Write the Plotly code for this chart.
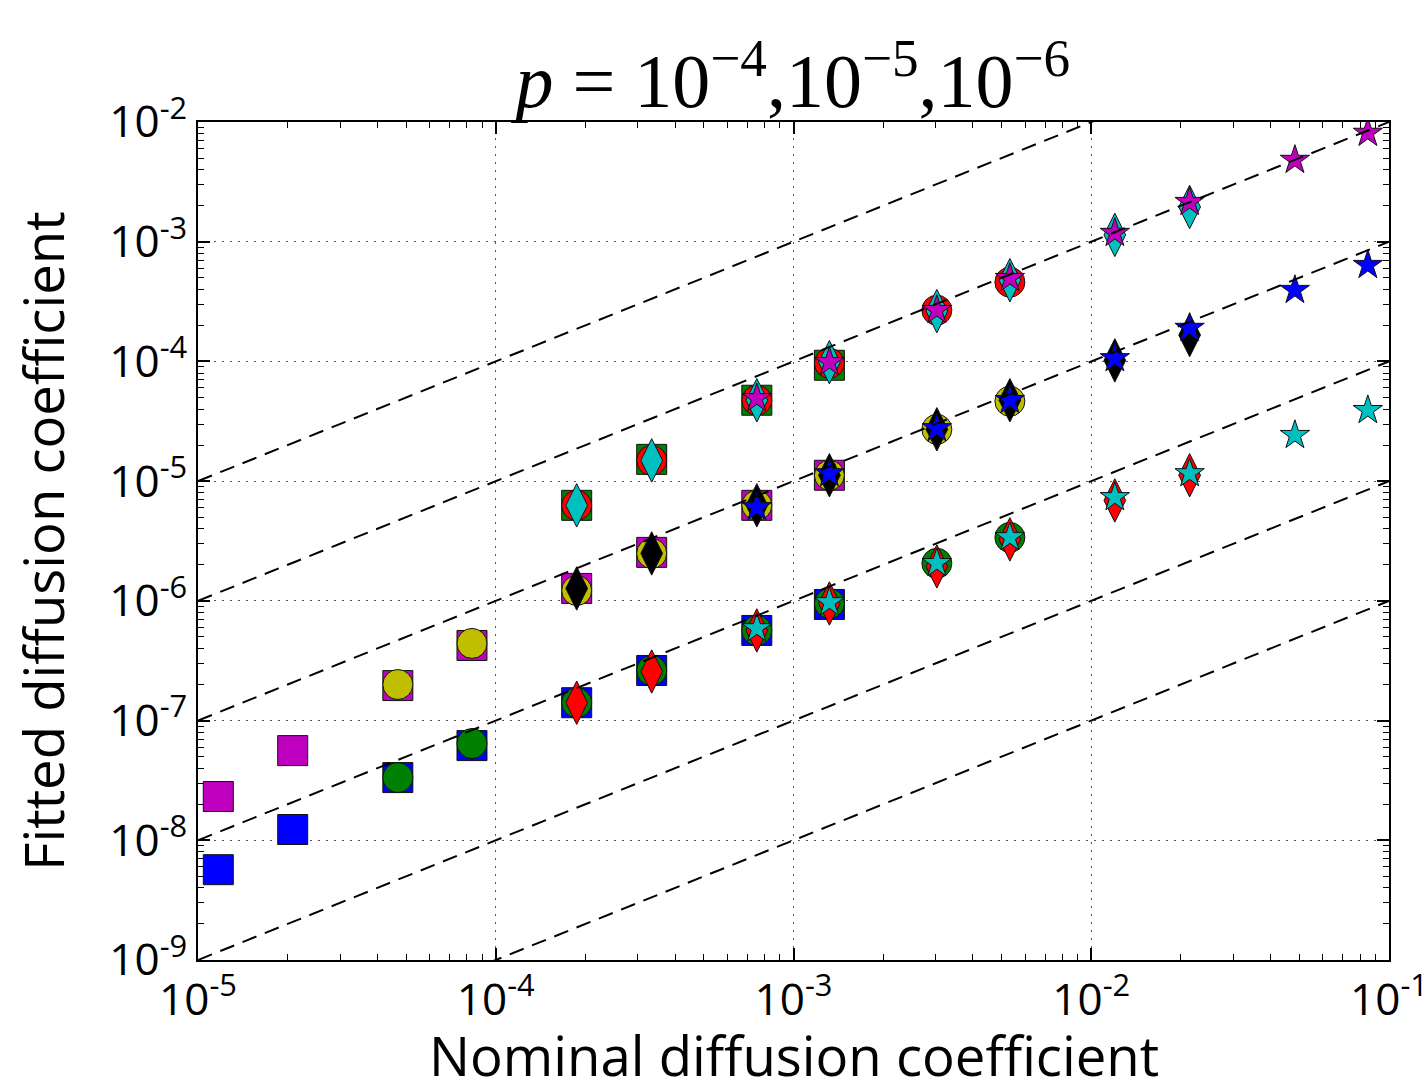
import plotly.graph_objects as go

# Nominal diffusion coefficients (shared x grid)
nominal = [1.17e-5, 2.08e-5, 4.69e-5, 8.32e-5, 1.87e-4, 3.34e-4, 7.53e-4,
           1.32e-3, 3.03e-3, 5.33e-3, 1.20e-2, 2.14e-2, 4.83e-2, 8.49e-2]

# index ranges of the nominal grid covered by each marker family
sq_idx = list(range(0, 8))
ci_idx = list(range(2, 10))
di_idx = list(range(4, 12))
st_idx = list(range(6, 14))

# fitted coefficients, upper family
a_sq = [6.28e-6, 1.52e-5, 4.74e-5, 9.29e-5]                     # idx 4..7
a_ci = [6.28e-6, 1.49e-5, 4.74e-5, 9.66e-5, 2.68e-4, 4.59e-4]   # idx 4..9
a_di = [6.28e-6, 1.49e-5, 4.74e-5, 9.85e-5, 2.63e-4, 4.77e-4, 1.14e-3, 1.95e-3]
a_st = [4.92e-5, 9.85e-5, 2.68e-4, 4.96e-4, 1.18e-3, 2.14e-3, 4.81e-3, 8.09e-3]

# fitted coefficients, middle family
b_sq = [2.32e-8, 5.61e-8, 1.96e-7, 4.24e-7, 1.27e-6, 2.54e-6, 6.28e-6, 1.12e-5]
b_ci = [2.00e-7, 4.41e-7, 1.22e-6, 2.49e-6, 6.28e-6, 1.12e-5, 2.71e-5, 4.65e-5]
b_di = [1.27e-6, 2.49e-6, 6.28e-6, 1.12e-5, 2.71e-5, 4.74e-5, 1.02e-4, 1.66e-4]
b_st = [6.04e-6, 1.16e-5, 2.76e-5, 4.74e-5, 1.06e-4, 1.90e-4, 3.94e-4, 6.37e-4]

# fitted coefficients, lower family
c_sq = [5.68e-9, 1.23e-8, 3.34e-8, 6.18e-8, 1.41e-7, 2.62e-7, 5.66e-7, 9.33e-7]
c_ci = [3.34e-8, 6.43e-8, 1.41e-7, 2.62e-7, 5.66e-7, 9.51e-7, 2.06e-6, 3.39e-6]
c_di = [1.41e-7, 2.57e-7, 5.66e-7, 9.51e-7, 1.94e-6, 3.26e-6, 6.90e-6, 1.12e-5]
c_st = [5.88e-7, 9.70e-7, 2.06e-6, 3.39e-6, 7.32e-6, 1.16e-5, 2.42e-5, 3.91e-5]

# reference lines y = 10^k * x
ref_exponents = [0, -1, -2, -3, -4, -5]
ref_x = [1e-5, 1e-1]

x_tick_exp = [-5, -4, -3, -2, -1]
y_tick_exp = [-9, -8, -7, -6, -5, -4, -3, -2]

B, G, R, C, M, Y, K = "#0000ff", "#008000", "#ff0000", "#00bfbf", "#bf00bf", "#bfbf00", "#000000"

fig = go.Figure()


def add(idx, vals, symbol, size, color, name, offset=0):
    xs = [nominal[i] for i in idx[offset:offset + len(vals)]]
    fig.add_trace(go.Scatter(
        x=xs, y=vals, mode="markers", name=name, showlegend=False,
        marker=dict(symbol=symbol, size=size, color=color,
                    line=dict(color="#111111", width=1)),
        hoverinfo="skip"))


SQ, CI, DI, ST = 30, 30, 31, 22

# squares
add(sq_idx, a_sq, "square", SQ, G, "sq upper", offset=4)
add(sq_idx, b_sq, "square", SQ, M, "sq middle")
add(sq_idx, c_sq, "square", SQ, B, "sq lower")
# circles
add(ci_idx, a_ci, "circle", CI, R, "ci upper", offset=2)
add(ci_idx, b_ci, "circle", CI, Y, "ci middle")
add(ci_idx, c_ci, "circle", CI, G, "ci lower")
# thin diamonds
add(di_idx, a_di, "diamond-tall", DI, C, "di upper")
add(di_idx, b_di, "diamond-tall", DI, K, "di middle")
add(di_idx, c_di, "diamond-tall", DI, R, "di lower")
# stars
add(st_idx, a_st, "star", ST, M, "st upper")
add(st_idx, b_st, "star", ST, B, "st middle")
add(st_idx, c_st, "star", ST, C, "st lower")

for k in ref_exponents:
    fig.add_trace(go.Scatter(
        x=ref_x, y=[v * 10 ** k for v in ref_x], mode="lines", showlegend=False,
        line=dict(color="black", width=2, dash="15px,9px"), hoverinfo="skip"))

tick_font = dict(family="Open Sans, DejaVu Sans, sans-serif", size=44, color="black")
label_font = dict(family="Open Sans, DejaVu Sans, sans-serif", size=54.5, color="black")


def minor_vals(lo, hi):
    return [m * 10.0 ** e for e in range(lo, hi) for m in range(2, 10)]


axis_common = dict(
    type="log", showline=True, linecolor="black", linewidth=2, mirror="ticks",
    ticks="inside", ticklen=12, tickwidth=1.5, tickcolor="black",
    showgrid=True, gridcolor="#555555", gridwidth=1.2, griddash="2px,6px",
    zeroline=False, tickfont=tick_font, automargin=False,
    ticklabeloverflow="allow",
)

fig.update_xaxes(
    range=[-5, -1],
    tickvals=[10.0 ** e for e in x_tick_exp],
    ticktext=[f"10<sup>{e}</sup>" for e in x_tick_exp],
    minor=dict(tickvals=minor_vals(-5, -1), ticks="inside", ticklen=6,
               tickcolor="black", tickwidth=1, showgrid=False),
    **axis_common)

fig.update_yaxes(
    range=[-9, -2],
    tickvals=[10.0 ** e for e in y_tick_exp],
    ticktext=[f"10<sup>{e}</sup>" for e in y_tick_exp],
    minor=dict(tickvals=minor_vals(-9, -2), ticks="inside", ticklen=6,
               tickcolor="black", tickwidth=1, showgrid=False),
    title=dict(text="Fitted diffusion coefficient", font=label_font, standoff=27),
    **axis_common)

# x-axis label sits low, partly running past the bottom edge
fig.add_annotation(
    text="Nominal diffusion coefficient", font=label_font, showarrow=False,
    xref="paper", yref="paper", x=0.5, y=0, xanchor="center", yanchor="middle",
    yshift=-95)

fig.update_layout(
    width=1422, height=1078,
    margin=dict(l=198, r=33, t=122, b=118),
    paper_bgcolor="white", plot_bgcolor="white",
    title=dict(
        text="<i>p</i> = 10<sup>\u22124</sup>,10<sup>\u22125</sup>,10<sup>\u22126</sup>",
        font=dict(family="Liberation Serif, DejaVu Serif, serif", size=76, color="black"),
        x=0.5575, xanchor="center", xref="container", y=0.925, yanchor="middle", yref="container"),
)

fig.write_html("out.html")
